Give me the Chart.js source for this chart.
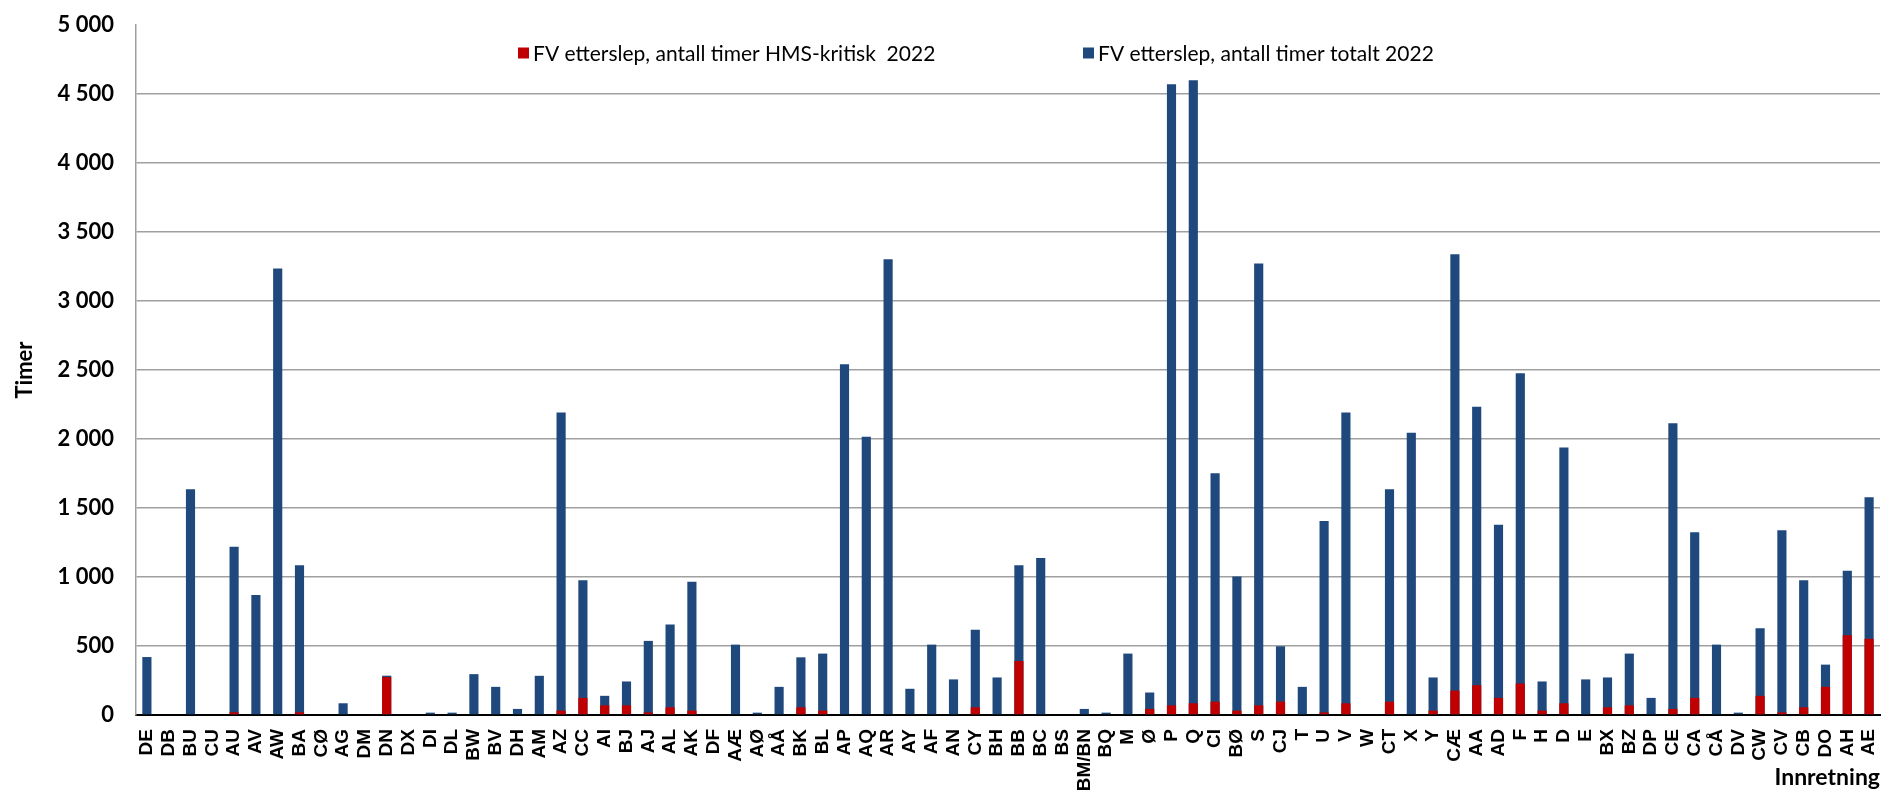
<!DOCTYPE html>
<html>
<head>
<meta charset="utf-8">
<script src="https://cdn.jsdelivr.net/npm/chart.js@4"></script>
<style>
  html, body { margin: 0; padding: 0; background: #fff; }
  #wrap { width: 1883px; height: 802px; position: relative; }
</style>
</head>
<body>
<div id="wrap"><canvas id="c" width="1883" height="802"></canvas></div>
<script>
const categories = ["DE","DB","BU","CU","AU","AV","AW","BA","CØ","AG","DM","DN","DX","DI","DL","BW","BV","DH","AM","AZ",
  "CC","AI","BJ","AJ","AL","AK","DF","AÆ","AØ","AÅ","BK","BL","AP","AQ","AR","AY","AF","AN","CY","BH",
  "BB","BC","BS","BM/BN","BQ","M","Ø","P","Q","CI","BØ","S","CJ","T","U","V","W","CT","X","Y",
  "CÆ","AA","AD","F","H","D","E","BX","BZ","DP","CE","CA","CÅ","DV","CW","CV","CB","DO","AH","AE"];

const totalHours = [420,0,1635,0,1220,870,3235,1086,0,85,0,285,0,17,17,296,204,44,284,2192,
  977,139,243,537,656,965,0,510,17,204,418,445,2541,2017,3302,190,510,258,617,272,
  1086,1137,0,44,17,445,163,4570,4600,1752,1004,3271,498,204,1405,2192,0,1635,2046,272,
  3338,2233,1378,2476,243,1939,258,272,445,124,2114,1324,510,17,629,1339,977,365,1045,1577];

const hmsHours = [0,0,0,0,20,0,0,20,0,0,0,275,0,0,0,0,0,0,0,32,
  124,70,70,19,56,32,0,0,0,0,56,32,0,0,0,0,0,0,56,0,
  391,0,0,0,0,0,44,70,85,97,32,70,97,0,19,85,0,97,0,32,
  177,216,124,228,32,85,0,56,70,0,44,124,0,0,139,19,56,204,578,552];

const seriesLabels = ["FV etterslep, antall timer HMS-kritisk  2022", "FV etterslep, antall timer totalt 2022"];
const yTicks = [0,500,1000,1500,2000,2500,3000,3500,4000,4500,5000];
const yTitle = "Timer";
const xTitle = "Innretning";

const RED = "#C00000";
const BLUE = "#1F497D";

const fmt = v => String(v).replace(/\B(?=(\d{3})+(?!\d))/g, "\u00A0");

// legend drawn inside the plot area; offsets of each item from the plot's left edge
const legendOffsets = [382, 947];

const insideLegend = {
  id: "insideLegend",
  afterDraw(chart) {
    const { ctx, chartArea } = chart;
    const items = chart.data.datasets.slice().sort((a, b) => a.legendIndex - b.legendIndex);
    ctx.save();
    ctx.font = "21px Lato, 'Liberation Sans', sans-serif";
    ctx.textBaseline = "middle";
    ctx.textAlign = "left";
    const box = 11, gapText = 4;
    const y = chartArea.top + 28;
    items.forEach((it, i) => {
      const x = chartArea.left + legendOffsets[i];
      ctx.fillStyle = it.backgroundColor;
      ctx.fillRect(x, y - box / 2, box, box);
      ctx.fillStyle = "#000";
      ctx.fillText(it.label, x + box + gapText, y + 1);
    });
    ctx.restore();
  }
};

new Chart(document.getElementById("c"), {
  type: "bar",
  data: {
    labels: categories,
    datasets: [
      { label: seriesLabels[0], data: hmsHours, backgroundColor: RED, order: 0, legendIndex: 0 },
      { label: seriesLabels[1], data: totalHours, backgroundColor: BLUE, order: 1, legendIndex: 1 }
    ]
  },
  options: {
    responsive: false,
    animation: false,
    devicePixelRatio: 1,
    layout: { padding: { top: 25, right: 3, left: 0, bottom: 0 } },
    plugins: { legend: { display: false }, tooltip: { enabled: false } },
    datasets: { bar: { grouped: false, categoryPercentage: 1, barPercentage: 0.42 } },
    scales: {
      x: {
        grid: { display: false, drawTicks: false },
        border: { display: true, color: "#000", width: 2 },
        ticks: {
          autoSkip: false, minRotation: 90, maxRotation: 90, padding: 14,
          color: "#000",
          font: { family: "'Liberation Sans', Arial, sans-serif", size: 19, weight: "bold" }
        },
        title: {
          display: true, text: xTitle, align: "end", color: "#000",
          font: { family: "Lato, sans-serif", size: 23, weight: "bold" },
          padding: { top: 0, bottom: 11 }
        },
        afterFit(scale) { scale.height = 87; scale.paddingLeft = 0; scale.paddingRight = 0; }
      },
      y: {
        min: 0, max: 5000,
        afterBuildTicks(scale) { scale.ticks = yTicks.map(v => ({ value: v })); },
        grid: {
          drawTicks: false,
          lineWidth: 1.5,
          color: c => c.tick && c.tick.value === 5000 ? "rgba(0,0,0,0)" : (c.tick && c.tick.value === 0 ? "#000" : "#a0a0a0")
        },
        border: { display: true, color: "#a0a0a0", width: 1.5 },
        ticks: {
          padding: 22, color: "#000",
          font: { family: "Lato, sans-serif", size: 22, weight: "bold" },
          callback: v => fmt(v)
        },
        title: {
          display: true, text: yTitle, color: "#000",
          font: { family: "Lato, sans-serif", size: 22, weight: "bold" },
          padding: { top: 12, bottom: 0 }
        },
        afterFit(scale) { scale.width = 136; scale.paddingTop = 0; scale.paddingBottom = 0; }
      }
    }
  },
  plugins: [insideLegend]
});
</script>
</body>
</html>
